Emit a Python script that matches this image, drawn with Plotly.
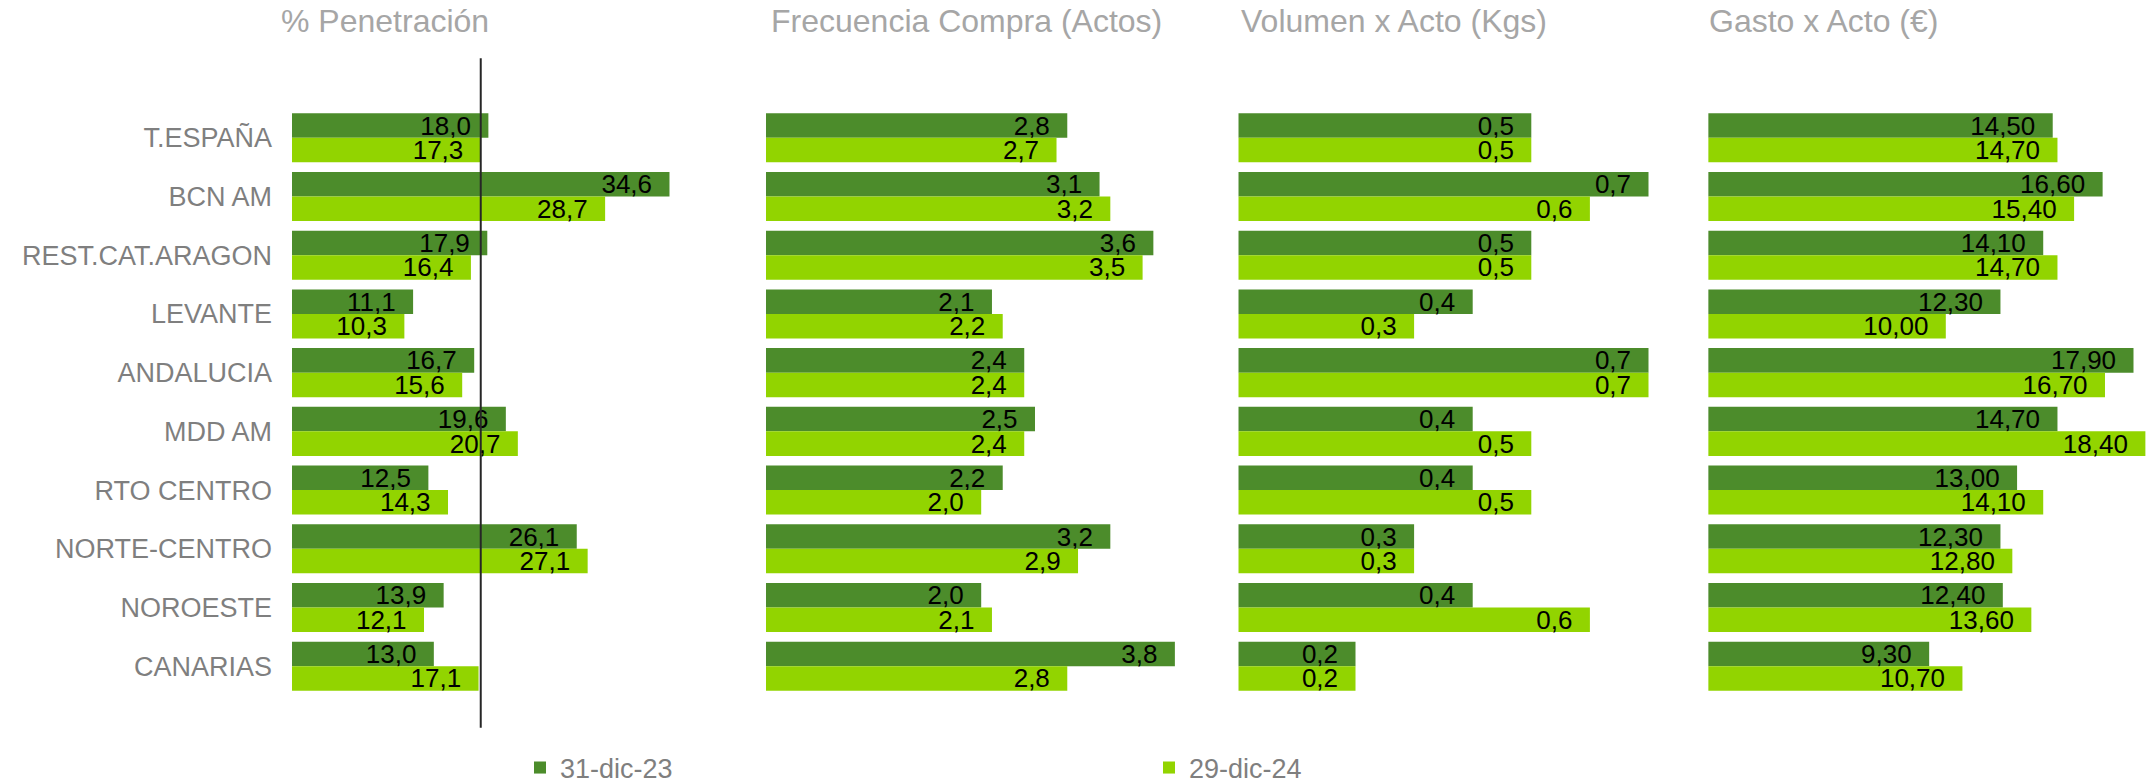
import plotly.graph_objects as go

# ---------------- data ----------------
categories = ["T.ESPAÑA", "BCN AM", "REST.CAT.ARAGON", "LEVANTE", "ANDALUCIA",
              "MDD AM", "RTO CENTRO", "NORTE-CENTRO", "NOROESTE", "CANARIAS"]
series_names = ["31-dic-23", "29-dic-24"]

pen_23 = [18.0, 34.6, 17.9, 11.1, 16.7, 19.6, 12.5, 26.1, 13.9, 13.0]
pen_24 = [17.3, 28.7, 16.4, 10.3, 15.6, 20.7, 14.3, 27.1, 12.1, 17.1]

frec_23 = [2.8, 3.1, 3.6, 2.1, 2.4, 2.5, 2.2, 3.2, 2.0, 3.8]
frec_24 = [2.7, 3.2, 3.5, 2.2, 2.4, 2.4, 2.0, 2.9, 2.1, 2.8]

vol_23 = [0.5, 0.7, 0.5, 0.4, 0.7, 0.4, 0.4, 0.3, 0.4, 0.2]
vol_24 = [0.5, 0.6, 0.5, 0.3, 0.7, 0.5, 0.5, 0.3, 0.6, 0.2]

gasto_23 = [14.50, 16.60, 14.10, 12.30, 17.90, 14.70, 13.00, 12.30, 12.40, 9.30]
gasto_24 = [14.70, 15.40, 14.70, 10.00, 16.70, 18.40, 14.10, 12.80, 13.60, 10.70]

panel_titles = ["% Penetración", "Frecuencia Compra (Actos)", "Volumen x Acto (Kgs)", "Gasto x Acto (€)"]

# ---------------- layout helpers ----------------
W, H = 2154, 781
FONT = "Liberation Sans, Arial, sans-serif"
DARK = "#4C8C2B"
LIGHT = "#92D400"
PAD = "\u00a0\u00a0"  # inset of value labels from bar end

# panel pixel geometry: (x start of bars, x end of domain, px per unit)
panels = [
    (292.0, 700.0, 10.91),
    (766.0, 1190.0, 107.6),
    (1238.3, 1660.0, 586.0),
    (1708.2, 2154.0, 23.76),
]
title_left_px = [279, 769, 1239, 1707]
fmt = [".1f", ".1f", ".1f", ".2f"]
data_pairs = [(pen_23, pen_24), (frec_23, frec_24), (vol_23, vol_24), (gasto_23, gasto_24)]

fig = go.Figure()
for i, ((a, b), f) in enumerate(zip(data_pairs, fmt)):
    xa = "x" if i == 0 else f"x{i+1}"
    for vals, name, col in zip((a, b), series_names, (DARK, LIGHT)):
        fig.add_trace(go.Bar(
            y=categories, x=vals, orientation="h", name=name,
            marker=dict(color=col, line=dict(width=0)),
            xaxis=xa, yaxis="y",
            texttemplate="%{x:" + f + "}" + PAD, textposition="inside",
            insidetextanchor="end", constraintext="none", textangle=0,
            textfont=dict(family=FONT, size=26, color="black"),
            showlegend=(i == 0), hoverinfo="skip",
        ))

layout_axes = {}
for i, (x0, x1, ppu) in enumerate(panels):
    key = "xaxis" if i == 0 else f"xaxis{i+1}"
    layout_axes[key] = dict(
        domain=[x0 / W, x1 / W], range=[0, (x1 - x0) / ppu],
        showgrid=False, zeroline=False, showline=False,
        showticklabels=False, ticks="", anchor="y", fixedrange=True,
    )

y_top_px, y_bot_px = 108.4, 695.6
fig.update_layout(
    width=W, height=H,
    margin=dict(l=0, r=0, t=0, b=0, autoexpand=False),
    paper_bgcolor="white", plot_bgcolor="white",
    barmode="group", bargap=0.165, bargroupgap=0,
    separators=",.",
    font=dict(family=FONT, color="#7F7F7F"),
    yaxis=dict(
        domain=[1 - y_bot_px / H, 1 - y_top_px / H],
        categoryorder="array", categoryarray=categories,
        range=[len(categories) - 0.5, -0.5],
        showgrid=False, zeroline=False, showline=False, ticks="",
        ticklabelstandoff=19,
        tickfont=dict(family=FONT, size=27, color="#7F7F7F"),
        anchor="x", fixedrange=True,
    ),
    legend=dict(
        orientation="h", x=520 / W, y=1 - 768 / H, xanchor="left", yanchor="middle",
        entrywidth=584, entrywidthmode="pixels",
        font=dict(family=FONT, size=27, color="#7F7F7F"),
        bgcolor="rgba(0,0,0,0)", traceorder="normal",
    ),
    **layout_axes,
)

for t, xl in zip(panel_titles, title_left_px):
    fig.add_annotation(
        text=t, x=xl / W, y=1 - 21 / H, xref="paper", yref="paper",
        xanchor="left", yanchor="middle", showarrow=False,
        font=dict(family=FONT, size=32, color="#A6A6A6"),
    )

# reference line at T.ESPAÑA 29-dic-24 penetration
fig.add_shape(
    type="line", xref="x", yref="paper",
    x0=pen_24[0], x1=pen_24[0], y0=1 - 727.7 / H, y1=1 - 58.3 / H,
    line=dict(color="#262626", width=2),
)

fig.write_html(
    "out.html",
    config={"displayModeBar": False},
    post_script="document.body.style.margin='0';document.body.style.overflow='hidden';",
)
